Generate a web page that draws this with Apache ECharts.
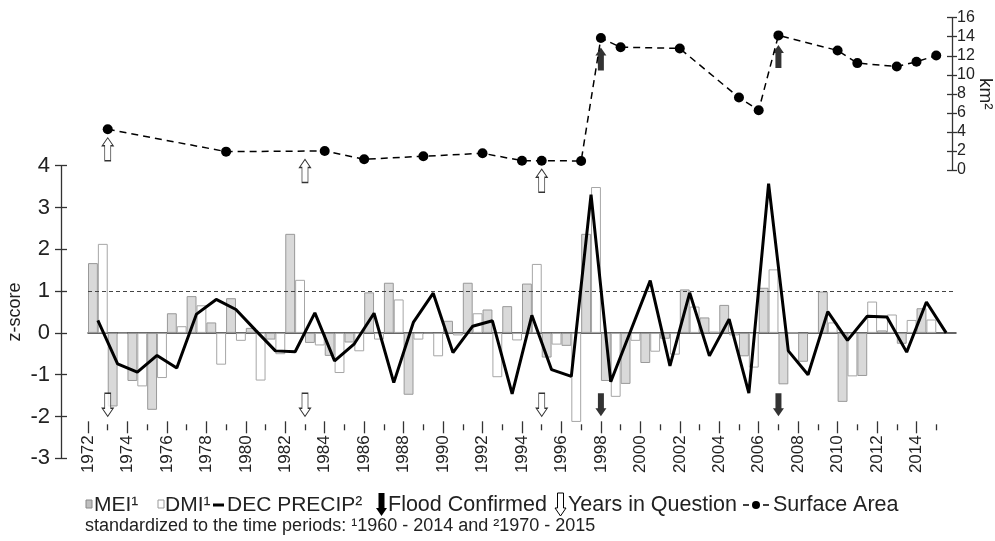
<!DOCTYPE html>
<html>
<head>
<meta charset="utf-8">
<script src="https://cdn.jsdelivr.net/npm/echarts@6/dist/echarts.min.js"></script>
<style>html,body{margin:0;padding:0;background:#fff}#chart{width:995px;height:541px}</style>
</head>
<body>
<div id="chart"></div>
<script>
// data
var years = [1972,1973,1974,1975,1976,1977,1978,1979,1980,1981,1982,1983,1984,1985,1986,1987,1988,1989,1990,1991,1992,1993,
             1994,1995,1996,1997,1998,1999,2000,2001,2002,2003,2004,2005,2006,2007,2008,2009,2010,2011,2012,2013,2014,2015];
var mei = [1.67,-1.76,-1.15,-1.84,0.47,0.88,0.25,0.83,0.12,-0.16,2.37,-0.24,-0.55,-0.23,0.97,1.20,-1.48,-0.02,0.29,1.20,0.56,0.64,
           1.18,-0.59,-0.31,2.37,-1.15,-1.22,-0.72,-0.14,1.04,0.37,0.67,-0.56,1.08,-1.23,-0.69,0.99,-1.65,-1.03,0.06,-0.26,0.59,null];
var dmi = [2.13,-0.02,-1.28,-1.08,0.16,0.66,-0.76,-0.19,-1.14,-0.51,1.27,-0.30,-0.96,-0.44,-0.16,0.80,-0.16,-0.56,-0.06,0.47,-1.06,-0.18,
           1.65,-0.28,-2.13,3.49,-1.53,-0.19,-0.45,-0.52,0.63,0.03,-0.06,-0.83,1.52,0.00,0.02,0.25,-1.04,0.75,0.44,0.31,0.32,null];
var decPrecip = [0.30,-0.74,-0.94,-0.54,-0.84,0.45,0.80,0.56,0.06,-0.43,-0.45,0.48,-0.67,-0.26,0.47,-1.19,0.26,0.95,-0.47,0.16,0.29,-1.46,
                 0.42,-0.88,-1.04,3.31,-1.17,0.04,1.25,-0.79,0.96,-0.55,0.33,-1.44,3.57,-0.43,-1.00,0.51,-0.18,0.40,0.38,-0.46,0.74,0.00];
var saYears = [1973,1979,1984,1986,1989,1992,1994,1995,1997,1998,1999,2002,2005,2006,2007,2010,2011,2013,2014,2015];
var saValues = [4.28,1.93,2.0,1.13,1.44,1.76,0.98,0.98,0.95,13.86,12.9,12.77,7.61,6.28,14.14,12.56,11.23,10.88,11.37,12.03];
var floodYears = [1998, 2007];
var questionYears = [1973, 1983, 1995];
var tickYears = [1972,1974,1976,1978,1980,1982,1984,1986,1988,1990,1992,1994,1996,1998,2000,2002,2004,2006,2008,2010,2012,2014];
var minorTickYears = [1973,1975,1977,1979,1981,1983,1985,1987,1989,1991,1993,1995,1997,1999,2001,2003,2005,2007,2009,2011,2013,2015];

var FONT = '"Liberation Sans", Arial, sans-serif';
var DOWN = 'path://M2.5,0 L8.5,0 L8.5,15 L11,15 L5.5,23 L0,15 L2.5,15 Z';
var UP = 'path://M5.5,0 L11,8 L8.5,8 L8.5,23 L2.5,23 L2.5,8 L0,8 Z';
var ARROW_Z = -1.72; // where the lower arrows sit on the z-score axis

// surface area of the year (or the next measured one) so the top arrows sit under the dots
function areaAt(yr){
  for (var i = 0; i < saYears.length; i++) { if (saYears[i] >= yr) return saValues[i]; }
  return saValues[saValues.length - 1];
}

// legend arrow (pointing down) as polygon points
function downArrow(x, y){
  return [[x+2.5,y],[x+8.5,y],[x+8.5,y+15],[x+11,y+15],[x+5.5,y+23],[x,y+15],[x+2.5,y+15]];
}

var chart = echarts.init(document.getElementById('chart'));

var option = {
  animation: false,
  textStyle: { fontFamily: FONT },
  grid: [
    { left: 88, right: 43, top: 17.7, height: 152.3, outerBoundsMode: 'none' },
    { left: 88, right: 39, top: 165.7, height: 292.6, outerBoundsMode: 'none' }
  ],
  xAxis: [
    { gridIndex: 0, type: 'value', min: 1972, max: 2015.8, show: false },
    { gridIndex: 1, type: 'category', data: years,
      axisLine: { onZero: true, onZeroAxisIndex: 2, lineStyle: { color: '#333', width: 1.5 } },
      axisTick: { show: false }, axisLabel: { show: false } },
    { gridIndex: 1, type: 'value', min: 1972, max: 2016, position: 'bottom', offset: -37,
      splitLine: { show: false },
      axisLine: { show: false, onZero: false },
      axisTick: { show: true, length: 12, customValues: tickYears, lineStyle: { color: '#333', width: 1.3 } },
      axisLabel: { customValues: tickYears, rotate: 90, margin: 14, fontSize: 17, color: '#222', fontFamily: FONT,
        formatter: function (v) { return String(v); } } },
    { gridIndex: 1, type: 'value', min: 1972, max: 2016, position: 'bottom', offset: -34,
      splitLine: { show: false },
      axisLine: { show: false, onZero: false },
      axisTick: { show: true, length: 6, customValues: minorTickYears, lineStyle: { color: '#333', width: 1.3 } },
      axisLabel: { show: false } }
  ],
  yAxis: [
    { gridIndex: 0, type: 'value', position: 'right', min: 0, max: 16, interval: 2,
      name: 'km²', nameLocation: 'middle', nameRotate: -90, nameGap: 24, nameMoveOverlap: false,
      nameTextStyle: { fontSize: 19, color: '#222', fontFamily: FONT },
      splitLine: { show: false },
      axisLine: { show: true, onZero: false, lineStyle: { color: '#333', width: 1.3 } },
      axisTick: { show: true, length: 5, lineStyle: { color: '#333', width: 1.3 } },
      axisLabel: { margin: 5, fontSize: 16, color: '#222', fontFamily: FONT } },
    { gridIndex: 0, type: 'value', position: 'right', min: 0, max: 16, interval: 2,
      splitLine: { show: false },
      axisLine: { show: false, onZero: false },
      axisTick: { show: true, inside: true, length: 5, lineStyle: { color: '#333', width: 1.3 } },
      axisLabel: { show: false } },
    { gridIndex: 1, type: 'value', position: 'left', offset: 27, min: -3, max: 4, interval: 1,
      name: 'z-score', nameLocation: 'middle', nameRotate: 90, nameGap: 37, nameMoveOverlap: false,
      nameTextStyle: { fontSize: 18, color: '#222', fontFamily: FONT },
      splitLine: { show: false },
      axisLine: { show: true, onZero: false, lineStyle: { color: '#333', width: 1.3 } },
      axisTick: { show: true, length: 6, lineStyle: { color: '#333', width: 1.3 } },
      axisLabel: { margin: 11, fontSize: 22, color: '#222', fontFamily: FONT } },
    { gridIndex: 1, type: 'value', position: 'left', offset: 27, min: -3, max: 4, interval: 1,
      splitLine: { show: false },
      axisLine: { show: false, onZero: false },
      axisTick: { show: true, inside: true, length: 6, lineStyle: { color: '#333', width: 1.3 } },
      axisLabel: { show: false } }
  ],
  series: [
    { name: 'MEI¹', type: 'bar', xAxisIndex: 1, yAxisIndex: 2, data: mei,
      barGap: '0%', barCategoryGap: '0%',
      itemStyle: { color: '#d9d9d9', borderColor: '#999', borderWidth: 1 } },
    { name: 'DMI¹', type: 'bar', xAxisIndex: 1, yAxisIndex: 2, data: dmi,
      barGap: '0%', barCategoryGap: '0%',
      itemStyle: { color: '#fff', borderColor: '#a6a6a6', borderWidth: 1 } },
    { name: 'DEC PRECIP²', type: 'line', xAxisIndex: 1, yAxisIndex: 2, data: decPrecip,
      showSymbol: false, z: 5, lineStyle: { color: '#000', width: 3 },
      markLine: { silent: true, symbol: 'none', label: { show: false },
        lineStyle: { color: '#444', width: 1, type: [4, 3] },
        data: [{ yAxis: 1 }] } },
    { name: 'Surface Area', type: 'line', xAxisIndex: 0, yAxisIndex: 0,
      data: saYears.map(function (y, i) { return [y, saValues[i]]; }),
      symbol: 'circle', symbolSize: 10, itemStyle: { color: '#000' },
      lineStyle: { color: '#000', width: 1.5, type: [7, 5] } },
    { name: 'Flood Confirmed', type: 'scatter', xAxisIndex: 2, yAxisIndex: 2,
      data: floodYears.map(function (y) { return [y, ARROW_Z]; }),
      symbol: DOWN, symbolSize: [11, 23], itemStyle: { color: '#000' }, z: 6 },
    { name: 'Years in Question', type: 'scatter', xAxisIndex: 2, yAxisIndex: 2,
      data: questionYears.map(function (y) { return [y, ARROW_Z]; }),
      symbol: DOWN, symbolSize: [11, 23], itemStyle: { color: '#fff', borderColor: '#000', borderWidth: 1 }, z: 6 },
    { type: 'scatter', xAxisIndex: 0, yAxisIndex: 0,
      data: floodYears.map(function (y) { return [y, areaAt(y)]; }),
      symbol: UP, symbolSize: [11, 23], symbolOffset: [0, 21], itemStyle: { color: '#000' }, z: 6 },
    { type: 'scatter', xAxisIndex: 0, yAxisIndex: 0,
      data: questionYears.map(function (y) { return [y, areaAt(y)]; }),
      symbol: UP, symbolSize: [11, 23], symbolOffset: [0, 20],
      itemStyle: { color: '#fff', borderColor: '#000', borderWidth: 1 }, z: 6 }
  ],
  graphic: [
    // legend row
    { type: 'rect', shape: { x: 86, y: 500, width: 6, height: 8 }, style: { fill: '#bfbfbf', stroke: '#888', lineWidth: 1 } },
    { type: 'text', x: 94, y: 505, style: { text: 'MEI¹', font: '21px ' + FONT, fill: '#222', verticalAlign: 'middle' } },
    { type: 'rect', shape: { x: 158, y: 500, width: 6, height: 8 }, style: { fill: '#fff', stroke: '#999', lineWidth: 1 } },
    { type: 'text', x: 165, y: 505, style: { text: 'DMI¹', font: '21px ' + FONT, fill: '#222', verticalAlign: 'middle' } },
    { type: 'line', shape: { x1: 213, y1: 505, x2: 224, y2: 505 }, style: { stroke: '#000', lineWidth: 3 } },
    { type: 'text', x: 227, y: 505, style: { text: 'DEC PRECIP²', font: '21px ' + FONT, fill: '#222', verticalAlign: 'middle' } },
    { type: 'polygon', shape: { points: downArrow(376, 493) }, style: { fill: '#000' } },
    { type: 'text', x: 388, y: 505, style: { text: 'Flood Confirmed', font: '21.5px ' + FONT, fill: '#222', verticalAlign: 'middle' } },
    { type: 'polygon', shape: { points: downArrow(555, 493) }, style: { fill: '#fff', stroke: '#000', lineWidth: 1 } },
    { type: 'text', x: 568, y: 505, style: { text: 'Years in Question', font: '21.5px ' + FONT, fill: '#222', verticalAlign: 'middle' } },
    { type: 'line', shape: { x1: 743, y1: 505, x2: 749, y2: 505 }, style: { stroke: '#000', lineWidth: 1.5 } },
    { type: 'circle', shape: { cx: 756, cy: 505, r: 4 }, style: { fill: '#000' } },
    { type: 'line', shape: { x1: 763, y1: 505, x2: 769, y2: 505 }, style: { stroke: '#000', lineWidth: 1.5 } },
    { type: 'text', x: 773, y: 505, style: { text: 'Surface Area', font: '21.5px ' + FONT, fill: '#222', verticalAlign: 'middle' } },
    // footnote
    { type: 'text', x: 85, y: 526, style: { text: 'standardized to the time periods: ¹1960 - 2014 and ²1970 - 2015',
      font: '18px ' + FONT, fill: '#222', verticalAlign: 'middle' } }
  ]
};

chart.setOption(option);
</script>
</body>
</html>
